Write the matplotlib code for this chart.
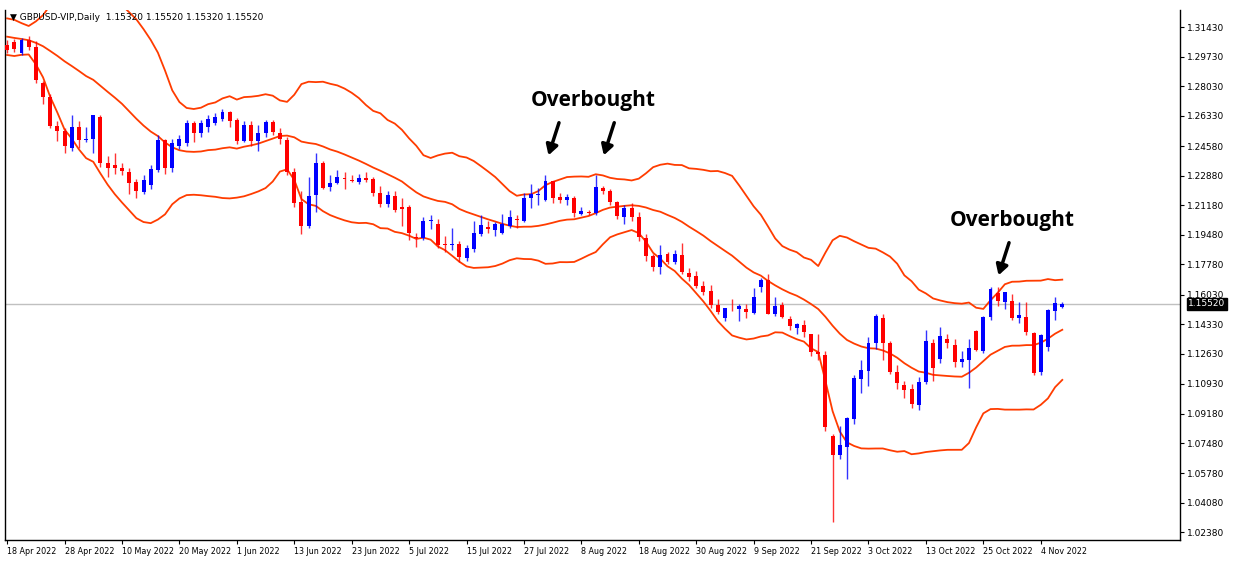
import numpy as np
import pandas as pd
import matplotlib
matplotlib.use("Agg")
import matplotlib.pyplot as plt
from matplotlib.patches import Rectangle

# ---- data (GBPUSD daily) ----
pre_close = [1.3130, 1.3160, 1.3190, 1.3170, 1.3140, 1.3130, 1.3120, 1.3110, 1.3080, 1.3110,
             1.3060, 1.3090, 1.3070, 1.3050, 1.3020, 1.3000, 1.3030, 1.3100, 1.3060, 1.3050]

opens = [1.3040, 1.3057, 1.2994, 1.3068, 1.3028, 1.2821, 1.2740, 1.2574, 1.2545, 1.2447,
         1.2568, 1.2493, 1.2499, 1.2626, 1.2361, 1.2349, 1.2332, 1.2309, 1.2252, 1.2194,
         1.2235, 1.2321, 1.2493, 1.2332, 1.2459, 1.2476, 1.2591, 1.2534, 1.2568, 1.2591,
         1.2614, 1.2654, 1.2608, 1.2488, 1.2580, 1.2488, 1.2534, 1.2597, 1.2534, 1.2493,
         1.2309, 1.2137, 1.1999, 1.2177, 1.2361, 1.2223, 1.2246, 1.2275, 1.2263, 1.2252,
         1.2275, 1.2269, 1.2189, 1.2125, 1.2171, 1.2108, 1.2108, 1.1936, 1.1930, 1.2028,
         1.2010, 1.1895, 1.1890, 1.1895, 1.1815, 1.1867, 1.1953, 1.1993, 1.1976, 1.1959,
         1.1999, 1.2039, 1.2028, 1.2160, 1.2177, 1.2148, 1.2258, 1.2166, 1.2148, 1.2160,
         1.2068, 1.2079, 1.2073, 1.2217, 1.2200, 1.2137, 1.2051, 1.2102, 1.2051, 1.1930,
         1.1826, 1.1763, 1.1838, 1.1792, 1.1832, 1.1729, 1.1711, 1.1654, 1.1625, 1.1545,
         1.1470, 1.1521, 1.1521, 1.1521, 1.1499, 1.1648, 1.1688, 1.1493, 1.1545, 1.1464,
         1.1412, 1.1430, 1.1378, 1.1274, 1.1257, 1.0791, 1.0682, 1.0728, 1.0889, 1.1119,
         1.1165, 1.1326, 1.1470, 1.1326, 1.1159, 1.1085, 1.1062, 1.0970, 1.1102, 1.1326,
         1.1234, 1.1349, 1.1315, 1.1217, 1.1228, 1.1395, 1.1280, 1.1476, 1.1613, 1.1562,
         1.1568, 1.1470, 1.1476, 1.1384, 1.1159, 1.1303, 1.1510, 1.1532]
closes = [1.3011, 1.3017, 1.3068, 1.3028, 1.2838, 1.2740, 1.2574, 1.2545, 1.2459, 1.2568,
          1.2493, 1.2499, 1.2637, 1.2361, 1.2332, 1.2332, 1.2315, 1.2246, 1.2200, 1.2263,
          1.2327, 1.2493, 1.2332, 1.2476, 1.2499, 1.2591, 1.2534, 1.2591, 1.2614, 1.2626,
          1.2654, 1.2603, 1.2488, 1.2580, 1.2488, 1.2534, 1.2597, 1.2539, 1.2499, 1.2309,
          1.2131, 1.1999, 1.2171, 1.2361, 1.2217, 1.2246, 1.2281, 1.2269, 1.2260, 1.2275,
          1.2263, 1.2189, 1.2125, 1.2177, 1.2091, 1.2097, 1.1959, 1.1930, 1.2028, 1.2033,
          1.1890, 1.1890, 1.1895, 1.1821, 1.1872, 1.1959, 1.2005, 1.1982, 1.2010, 1.2010,
          1.2051, 1.2033, 1.2160, 1.2183, 1.2183, 1.2258, 1.2160, 1.2148, 1.2166, 1.2073,
          1.2085, 1.2073, 1.2223, 1.2200, 1.2137, 1.2056, 1.2102, 1.2051, 1.1936, 1.1826,
          1.1763, 1.1832, 1.1792, 1.1838, 1.1734, 1.1706, 1.1654, 1.1619, 1.1545, 1.1504,
          1.1527, 1.1519, 1.1539, 1.1504, 1.1591, 1.1688, 1.1493, 1.1539, 1.1476, 1.1424,
          1.1435, 1.1389, 1.1274, 1.1263, 1.0843, 1.0682, 1.0740, 1.0895, 1.1125, 1.1171,
          1.1326, 1.1481, 1.1326, 1.1159, 1.1096, 1.1056, 1.0975, 1.1102, 1.1337, 1.1182,
          1.1366, 1.1326, 1.1217, 1.1234, 1.1297, 1.1286, 1.1476, 1.1637, 1.1568, 1.1619,
          1.1470, 1.1487, 1.1389, 1.1154, 1.1372, 1.1516, 1.1556, 1.1552]
highs = [1.3068, 1.3074, 1.3080, 1.3090, 1.3060, 1.2830, 1.2760, 1.2600, 1.2560, 1.2640,
         1.2600, 1.2570, 1.2640, 1.2640, 1.2400, 1.2420, 1.2360, 1.2330, 1.2270, 1.2290,
         1.2350, 1.2520, 1.2500, 1.2500, 1.2520, 1.2610, 1.2600, 1.2610, 1.2640, 1.2650,
         1.2670, 1.2660, 1.2620, 1.2600, 1.2600, 1.2580, 1.2610, 1.2610, 1.2560, 1.2510,
         1.2330, 1.2200, 1.2280, 1.2420, 1.2370, 1.2290, 1.2320, 1.2310, 1.2290, 1.2300,
         1.2310, 1.2280, 1.2230, 1.2200, 1.2200, 1.2160, 1.2120, 1.1960, 1.2050, 1.2060,
         1.2040, 1.1940, 1.1990, 1.1910, 1.1890, 1.2030, 1.2060, 1.2030, 1.2020, 1.2070,
         1.2090, 1.2060, 1.2190, 1.2240, 1.2220, 1.2290, 1.2260, 1.2190, 1.2180, 1.2170,
         1.2110, 1.2090, 1.2290, 1.2230, 1.2210, 1.2140, 1.2120, 1.2130, 1.2080, 1.1950,
         1.1840, 1.1890, 1.1850, 1.1860, 1.1900, 1.1760, 1.1740, 1.1680, 1.1660, 1.1580,
         1.1530, 1.1580, 1.1550, 1.1550, 1.1640, 1.1700, 1.1720, 1.1590, 1.1560, 1.1480,
         1.1440, 1.1460, 1.1380, 1.1380, 1.1280, 1.0800, 1.0850, 1.0900, 1.1140, 1.1230,
         1.1360, 1.1490, 1.1490, 1.1340, 1.1200, 1.1110, 1.1090, 1.1130, 1.1400, 1.1350,
         1.1420, 1.1380, 1.1350, 1.1280, 1.1350, 1.1400, 1.1480, 1.1650, 1.1650, 1.1620,
         1.1610, 1.1560, 1.1560, 1.1390, 1.1380, 1.1520, 1.1590, 1.1560]
lows = [1.2994, 1.3000, 1.2980, 1.3010, 1.2820, 1.2700, 1.2560, 1.2490, 1.2420, 1.2430,
        1.2450, 1.2480, 1.2420, 1.2340, 1.2280, 1.2300, 1.2290, 1.2180, 1.2160, 1.2180,
        1.2210, 1.2310, 1.2300, 1.2310, 1.2440, 1.2460, 1.2480, 1.2510, 1.2540, 1.2580,
        1.2600, 1.2570, 1.2470, 1.2480, 1.2460, 1.2430, 1.2510, 1.2520, 1.2470, 1.2290,
        1.2110, 1.1950, 1.1990, 1.2080, 1.2210, 1.2200, 1.2240, 1.2210, 1.2250, 1.2240,
        1.2250, 1.2170, 1.2110, 1.2110, 1.2080, 1.2000, 1.1920, 1.1880, 1.1920, 1.1980,
        1.1870, 1.1850, 1.1860, 1.1790, 1.1800, 1.1850, 1.1940, 1.1960, 1.1940, 1.1950,
        1.1990, 1.1990, 1.2020, 1.2100, 1.2120, 1.2140, 1.2130, 1.2130, 1.2120, 1.2050,
        1.2060, 1.2060, 1.2060, 1.2180, 1.2120, 1.2040, 1.2010, 1.2030, 1.1910, 1.1800,
        1.1740, 1.1720, 1.1780, 1.1780, 1.1720, 1.1680, 1.1640, 1.1600, 1.1530, 1.1490,
        1.1450, 1.1510, 1.1450, 1.1470, 1.1490, 1.1620, 1.1490, 1.1480, 1.1470, 1.1400,
        1.1380, 1.1360, 1.1250, 1.1230, 1.0820, 1.0297, 1.0660, 1.0544, 1.0860, 1.1040,
        1.1080, 1.1290, 1.1230, 1.1150, 1.1060, 1.1010, 1.0950, 1.0940, 1.1090, 1.1110,
        1.1210, 1.1300, 1.1190, 1.1190, 1.1070, 1.1280, 1.1270, 1.1460, 1.1540, 1.1520,
        1.1460, 1.1440, 1.1370, 1.1140, 1.1140, 1.1280, 1.1460, 1.1530]

date_labels = ["18 Apr 2022", "28 Apr 2022", "10 May 2022", "20 May 2022", "1 Jun 2022",
               "13 Jun 2022", "23 Jun 2022", "5 Jul 2022", "15 Jul 2022", "27 Jul 2022",
               "8 Aug 2022", "18 Aug 2022", "30 Aug 2022", "9 Sep 2022", "21 Sep 2022",
               "3 Oct 2022", "13 Oct 2022", "25 Oct 2022", "4 Nov 2022"]
price_ticks = [1.31430, 1.29730, 1.28030, 1.26330, 1.24580, 1.22880, 1.21180, 1.19480,
               1.17780, 1.16030, 1.14330, 1.12630, 1.10930, 1.09180, 1.07480, 1.05780,
               1.04080, 1.02380]
last_price = 1.15520

# Bollinger bands (20, 2)
all_close = pd.Series(pre_close + closes)
mid = all_close.rolling(20).mean()
sd = all_close.rolling(20).std(ddof=0)
n_pre = len(pre_close)
mid = mid.values[n_pre:]
upper = mid + 2 * sd.values[n_pre:]
lower = mid - 2 * sd.values[n_pre:]

# ---- figure ----
fig = plt.figure(figsize=(12.36, 5.62), dpi=100)
ax = fig.add_axes([5 / 1236, 22 / 562, 1175 / 1236, 530 / 562])
x = np.arange(len(closes))
band_col = "#ff3c00"
ax.plot(x, mid, color=band_col, lw=1.3, zorder=2)
ax.plot(x, upper, color=band_col, lw=1.3, zorder=2)
ax.plot(x, lower, color=band_col, lw=1.3, zorder=2)

w = 0.55
for i in x:
    o, c = opens[i], closes[i]
    col = "#0000ff" if c >= o else "#ff0000"
    ax.vlines(i, lows[i], highs[i], color=col, lw=1, zorder=3, alpha=0.8)
    h = max(abs(c - o), 0.0004)
    ax.add_patch(Rectangle((i - w / 2, min(o, c)), w, h, color=col, zorder=4, lw=0))

ax.axhline(last_price, color="#c0c0c0", lw=1, zorder=1)

ax.set_xlim(-0.3, 163.4)
ax.set_ylim(1.0193, 1.3241)
ax.yaxis.tick_right()
ax.set_yticks(price_ticks)
ax.set_yticklabels([f"{p:.5f}" for p in price_ticks], fontsize=6.5)
ax.set_xticks(np.arange(0, 8 * len(date_labels), 8))
ax.set_xticklabels(date_labels, fontsize=5.8, ha="left")
ax.tick_params(length=3, width=0.8, pad=2)
ax.spines["top"].set_visible(False)
for s in ["left", "right", "bottom"]:
    ax.spines[s].set_linewidth(1)

ax.text(1.007, (last_price - 1.0193) / (1.3241 - 1.0193), f"{last_price:.5f}",
        transform=ax.transAxes, fontsize=6.5, color="white", va="center", ha="left",
        bbox=dict(facecolor="black", edgecolor="black", pad=1.2))

fig.text(10 / 1236, 1 - 17 / 562, "\u25bc GBPUSD-VIP,Daily  1.15320 1.15520 1.15320 1.15520",
         fontsize=6.5, va="center")

# annotations
txt = dict(fontsize=15, fontweight="bold", family="Open Sans", ha="center", va="center")
ax.text(81.6, 1.2718, "Overbought", **txt)
ax.text(140.0, 1.2028, "Overbought", **txt)
arrow = dict(arrowstyle="-|>,head_length=0.6,head_width=0.35", color="black", lw=2.5)
ax.annotate("", xy=(75.3, 1.2390), xytext=(77.0, 1.2608), arrowprops=arrow)
ax.annotate("", xy=(83.0, 1.2390), xytext=(84.7, 1.2608), arrowprops=arrow)
ax.annotate("", xy=(138.0, 1.1700), xytext=(139.7, 1.1918), arrowprops=arrow)

fig.savefig("out.png", dpi=100)
